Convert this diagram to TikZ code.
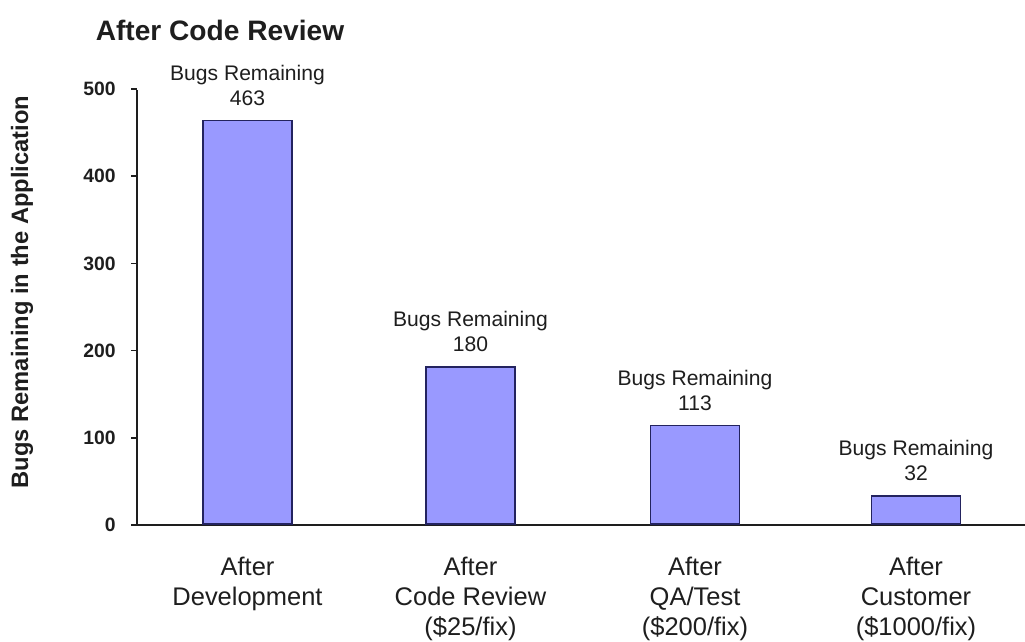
\documentclass[tikz,border=0pt]{standalone}
\usepackage{fontspec}
\setmainfont{Liberation Sans}
\usetikzlibrary{positioning}

\definecolor{barfill}{RGB}{153,153,255}
\definecolor{barline}{RGB}{35,35,95}
\definecolor{ink}{RGB}{30,30,30}

\tikzset{
    bar/.style={draw=barline, fill=barfill, line width=1pt, minimum width=1.78cm, inner sep=0, anchor=south},
    buglabel/.style={align=center, inner sep=0, text=ink, font=\fontsize{12}{14.2}\selectfont},
    catlabel/.style={align=center, inner sep=0, text=ink, font=\fontsize{14.5}{17}\selectfont},
    ticklabel/.style={anchor=east, inner sep=0, text=ink, font=\fontsize{11}{13}\selectfont\bfseries}
}

\begin{document}
\begin{tikzpicture}[x=0.02cm, y=-0.02cm]

    \useasboundingbox (0,0) rectangle (1025,642);

    \node[font=\fontsize{16}{19}\selectfont\bfseries, text=ink] (title) at (220,30) {After Code Review};
    \node[rotate=90, font=\fontsize{13.5}{16}\selectfont\bfseries, text=ink] (ylabel) at (22,292) {Bugs Remaining in the Application};

    % axes
    \draw[ink, line width=0.85pt] (137,90) -- (137,525) -- (1025,525);
    \foreach \v in {0,100,...,500} {
        \draw[ink, line width=0.85pt] (131,525-0.872*\v) -- (137,525-0.872*\v);
        \node[ticklabel] (tick\v) at (116,525-0.872*\v) {\v};
    }

    % bars
    \node[bar, minimum height=463*0.01744cm] (dev) at (247.5,525) {};
    \node[bar, minimum height=180*0.01744cm] (review) at (470.5,525) {};
    \node[bar, minimum height=113*0.01744cm] (qa) at (695,525) {};
    \node[bar, minimum height=32*0.01744cm] (cust) at (916,525) {};

    \node[buglabel, above=0.28cm of dev] (devn) {Bugs Remaining\\463};
    \node[buglabel, above=0.28cm of review] (reviewn) {Bugs Remaining\\180};
    \node[buglabel, above=0.28cm of qa] (qan) {Bugs Remaining\\113};
    \node[buglabel, above=0.28cm of cust] (custn) {Bugs Remaining\\32};

    \node[catlabel, below=0.64cm of dev] (devc) {After\\Development};
    \node[catlabel, below=0.64cm of review] (reviewc) {After\\Code Review\\(\$25/fix)};
    \node[catlabel, below=0.64cm of qa] (qac) {After\\QA/Test\\(\$200/fix)};
    \node[catlabel, below=0.64cm of cust] (custc) {After\\Customer\\(\$1000/fix)};

\end{tikzpicture}
\end{document}
